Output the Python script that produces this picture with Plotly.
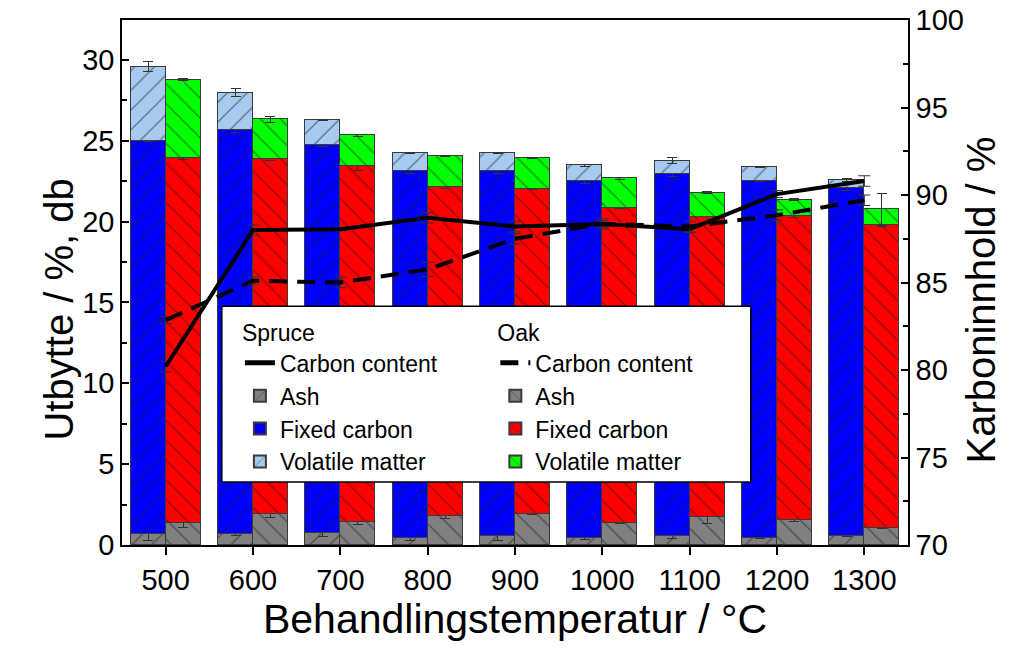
import plotly.graph_objects as go

# DATA ---------------------------------
temps = [500, 600, 700, 800, 900, 1000, 1100, 1200, 1300]

# spruce yields (% db), cumulative tops -> segment sizes below
spruce_ash = [0.65, 0.65, 0.72, 0.42, 0.56, 0.42, 0.58, 0.45, 0.55]
spruce_fc_top = [24.98, 25.64, 24.72, 23.15, 23.15, 22.49, 22.92, 22.51, 22.06]
spruce_total = [29.58, 27.97, 26.28, 24.24, 24.24, 23.48, 23.77, 23.38, 22.57]
spruce_ash_err = [0.35, 0.05, 0.2, 0.15, 0.3, 0.05, 0.15, 0.05, 0.05]
spruce_fc_err = [0.05, 0.15, 0.05, 0.15, 0.15, 0.15, 0.15, 0.05, 0.15]
spruce_vm_err = [0.3, 0.25, 0.05, 0.05, 0.05, 0.05, 0.2, 0.05, 0.1]

# oak yields (% db)
oak_ash = [1.38, 1.9, 1.44, 1.77, 1.92, 1.38, 1.75, 1.56, 1.07]
oak_fc_top = [23.91, 23.85, 23.42, 22.12, 22.04, 20.84, 20.27, 20.33, 19.77]
oak_total = [28.78, 26.33, 25.34, 24.06, 23.93, 22.68, 21.79, 21.35, 20.76]
oak_ash_err = [0.3, 0.2, 0.2, 0.15, 0.05, 0.05, 0.4, 0.1, 0.05]
oak_fc_err = [0.05, 0.05, 0.25, 0.1, 0.05, 0.05, 0.4, 0.05, 0.1]
oak_vm_err = [0.05, 0.2, 0.05, 0.05, 0.05, 0.05, 0.05, 0.05, 1.0]

# carbon content (%)
spruce_carbon = [80.2, 88.0, 88.05, 88.7, 88.2, 88.35, 88.05, 90.05, 90.8]
oak_carbon = [82.85, 85.1, 85.0, 85.75, 87.5, 88.35, 88.2, 88.85, 89.7]
spruce_carbon_err = [0.3, 0.3, 0.1, 0.3, 0.3, 0.2, 0.2, 0.2, 0.3]
oak_carbon_err = [0.2, 0.2, 0.3, 0.4, 0.3, 0.3, 0.3, 0.3, 0.3]

#SEGMENTS ---------------------------------
spruce_fc = [t - a for t, a in zip(spruce_fc_top, spruce_ash)]
spruce_vm = [t - f for t, f in zip(spruce_total, spruce_fc_top)]
oak_fc = [t - a for t, a in zip(oak_fc_top, oak_ash)]
oak_vm = [t - f for t, f in zip(oak_total, oak_fc_top)]

x_spruce = [t - 20 for t in temps]
x_oak = [t + 20 for t in temps]

font_family = 'Liberation Sans, Arial, sans-serif'
outline = '#3a3a3a'

fig = go.Figure()


def add_bar(x, y, err, color, shape, name, legend, rank):
    fig.add_trace(go.Bar(
        x=x, y=y, width=40, name=name, legend=legend, legendrank=rank,
        marker=dict(color=color, line=dict(color=outline, width=1.5),
                    pattern=dict(shape=shape, fgcolor='#1a1a1a', bgcolor=color,
                                 size=14, solidity=0.09)),
        error_y=dict(type='data', array=err, color='#333333', thickness=1, width=5),
    ))


add_bar(x_spruce, spruce_ash, spruce_ash_err, '#808080', '/', 'Ash', 'legend', 2)
add_bar(x_spruce, spruce_fc, spruce_fc_err, '#0000FF', '/', 'Fixed carbon', 'legend', 3)
add_bar(x_spruce, spruce_vm, spruce_vm_err, '#A6CAF0', '/', 'Volatile matter', 'legend', 4)
add_bar(x_oak, oak_ash, oak_ash_err, '#808080', '\\', 'Ash', 'legend2', 2)
add_bar(x_oak, oak_fc, oak_fc_err, '#FF0000', '\\', 'Fixed carbon', 'legend2', 3)
add_bar(x_oak, oak_vm, oak_vm_err, '#00FF00', '\\', 'Volatile matter', 'legend2', 4)

fig.add_trace(go.Scatter(
    x=temps, y=spruce_carbon, yaxis='y2', mode='lines', name='Carbon content',
    legend='legend', legendrank=1,
    line=dict(color='black', width=4),
    error_y=dict(type='data', array=spruce_carbon_err, color='#333333', thickness=1, width=6),
))
fig.add_trace(go.Scatter(
    x=temps, y=oak_carbon, yaxis='y2', mode='lines', name='Carbon content',
    legend='legend2', legendrank=1,
    line=dict(color='black', width=4, dash='18px,10px'),
    error_y=dict(type='data', array=oak_carbon_err, color='#333333', thickness=1, width=6),
))

#LEGEND BOX + AXIS TITLES ---------------------------------
fig.add_shape(type='rect', xref='paper', yref='paper', x0=0.127, x1=0.8, y0=0.12, y1=0.455,
              fillcolor='white', line=dict(color='black', width=1.5), layer='above')

fig.add_annotation(xref='paper', yref='paper', x=-0.111, y=0.448, text='Utbytte / %, db',
                   textangle=-90, showarrow=False, font=dict(size=40, color='black'))
fig.add_annotation(xref='paper', yref='paper', x=1.123, y=0.467, text='Karboninnhold / %',
                   textangle=-90, showarrow=False, font=dict(size=40, color='black'))

legend_common = dict(bgcolor='rgba(0,0,0,0)', borderwidth=0, traceorder='normal',
                     font=dict(size=23, color='black', family=font_family),
                     title=dict(font=dict(size=23, color='black', family=font_family)),
                     xanchor='left', yanchor='top', yref='paper', tracegroupgap=0,
                     itemsizing='constant')

# the page has an 8px body margin, so margins are shifted to land where the reference is
fig.update_layout(
    barmode='stack',
    bargap=0,
    width=1036, height=649,
    paper_bgcolor='white', plot_bgcolor='white',
    margin=dict(l=114, r=136, t=12, b=112, autoexpand=False),
    font=dict(family=font_family, color='black'),
    legend=dict(x=0.15, y=0.445, title_text='Spruce', **legend_common),
    legend2=dict(x=0.475, y=0.445, title_text='Oak', **legend_common),
    xaxis=dict(range=[450, 1350], tickvals=temps, ticks='outside', ticklen=8,
               tickwidth=1.5, tickcolor='black', showline=True, linecolor='black',
               linewidth=1.5, mirror=True, showgrid=False, zeroline=False,
               automargin=False, tickfont=dict(size=29),
               title=dict(text='Behandlingstemperatur / °C', font=dict(size=41), standoff=4)),
    yaxis=dict(range=[0, 32.47], tickvals=[0, 5, 10, 15, 20, 25, 30], ticks='inside',
               ticklen=7, tickwidth=1.5, tickcolor='black', showline=True,
               linecolor='black', linewidth=1.5, showgrid=False, zeroline=False,
               automargin=False,
               minor=dict(dtick=2.5, ticks='inside', ticklen=5, tickcolor='black'),
               tickfont=dict(size=29)),
    yaxis2=dict(range=[70, 100], overlaying='y', side='right', tickvals=[70, 75, 80, 85, 90, 95, 100],
                ticks='inside', ticklen=7, tickwidth=1.5, tickcolor='black',
                showline=True, linecolor='black', linewidth=1.5, showgrid=False,
                zeroline=False, automargin=False, ticklabeloverflow='allow',
                minor=dict(dtick=2.5, ticks='inside', ticklen=5, tickcolor='black'),
                tickfont=dict(size=29)),
)

fig.write_html('out.html')
